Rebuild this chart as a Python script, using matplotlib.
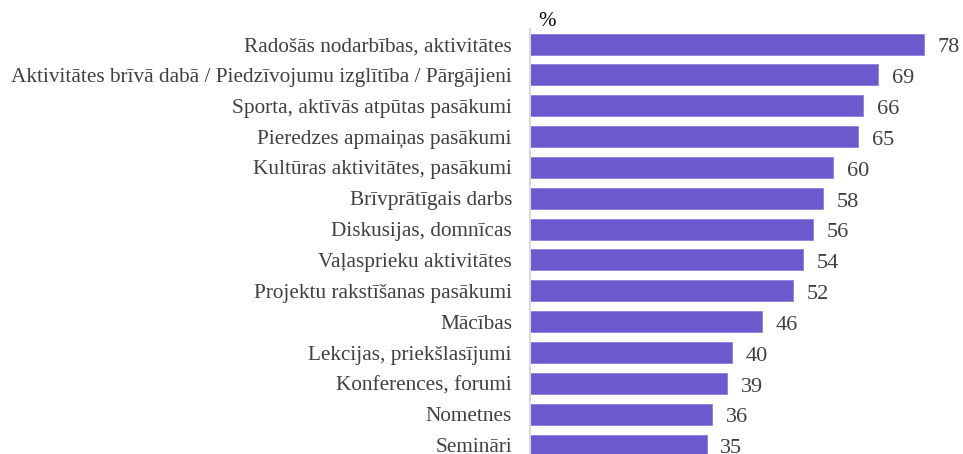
import matplotlib.pyplot as plt

# ---------------------
# Dati
# ---------------------
categories = [
    "Radošās nodarbības, aktivitātes",
    "Aktivitātes brīvā dabā / Piedzīvojumu izglītība / Pārgājieni",
    "Sporta, aktīvās atpūtas pasākumi",
    "Pieredzes apmaiņas pasākumi",
    "Kultūras aktivitātes, pasākumi",
    "Brīvprātīgais darbs",
    "Diskusijas, domnīcas",
    "Vaļasprieku aktivitātes",
    "Projektu rakstīšanas pasākumi",
    "Mācības",
    "Lekcijas, priekšlasījumi",
    "Konferences, forumi",
    "Nometnes",
    "Semināri",
]
values = [78, 69, 66, 65, 60, 58, 56, 54, 52, 46, 40, 39, 36, 35]

bar_color = "#6a5acd"
text_color = "#404040"

# ---------------------
# Plot
# ---------------------
plt.rcParams['font.family'] = ['Liberation Serif', 'DejaVu Serif']

fig = plt.figure(figsize=(9.63, 4.54), dpi=100)
ax = fig.add_axes([0.5504, 0.0, 0.4457, 0.936])

y = list(range(len(categories)))
ax.barh(y, values, height=0.68, color=bar_color, edgecolor="#8c80e0", linewidth=0.6)

for yi, v in zip(y, values):
    ax.text(v + 2.7, yi + 0.04, str(v), va="center_baseline", ha="left",
            fontsize=16, color=text_color)

ax.set_xlim(0, 85)
ax.set_ylim(13.29, -0.486)
ax.set_yticks(y)
ax.set_yticklabels(categories, fontsize=15.3, color=text_color)
ax.tick_params(axis="y", length=0, pad=13)
ax.set_xticks([])

for s in ["top", "right", "bottom"]:
    ax.spines[s].set_visible(False)
ax.spines["left"].set_color("#d9d9d9")
ax.spines["left"].set_linewidth(1.5)

ax.text(0.02, 0.995, "%", transform=ax.transAxes, fontsize=15, color="black",
        ha="left", va="bottom")

fig.savefig("out.png", dpi=100)
